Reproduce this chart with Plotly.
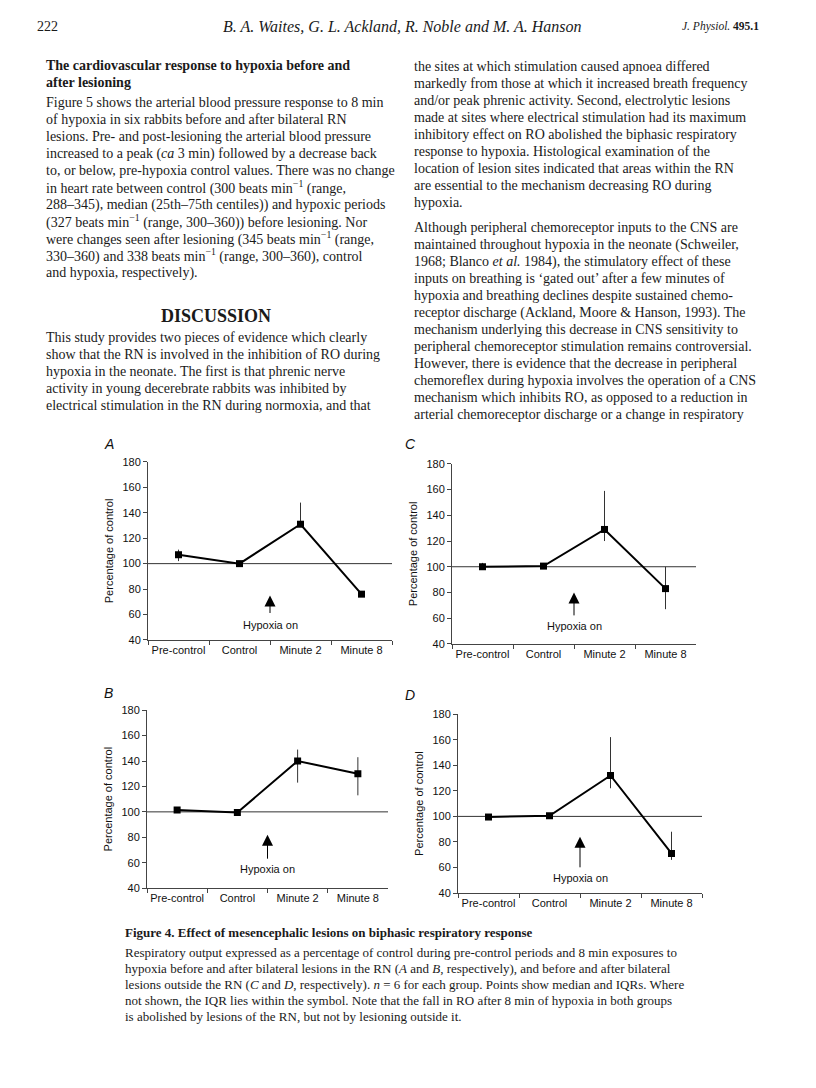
import plotly.graph_objects as go

W, H = 816, 1088

# ---- data ----
categories = ["Pre-control", "Control", "Minute 2", "Minute 8"]

a_median = [107, 100, 131, 76]
a_low = [102, 100, 129, 76]
a_high = [111, 100, 148, 76]

b_median = [101.5, 99.5, 140, 130]
b_low = [101.5, 99.5, 123, 113]
b_high = [101.5, 99.5, 149, 143]

c_median = [100, 100.5, 129, 83]
c_low = [100, 100.5, 120, 67]
c_high = [103, 100.5, 159, 100]

d_median = [99.5, 100.5, 132, 71]
d_low = [99.5, 100.5, 122, 66]
d_high = [99.5, 100.5, 162, 88]

y_ticks = [40, 60, 80, 100, 120, 140, 160, 180]

SERIF = "Liberation Serif"
SANS = "Liberation Sans"


def px_x(x):
    return x / W


def px_y(y):
    return 1 - y / H


# panel: letter, data, x-domain px, y-domain px (top, bottom), letter pos, arrow (tip, tail, label y)
panels = [
    ("A", a_median, a_low, a_high, (148, 392), (461, 641), (102, 443), (75, 60, 52)),
    ("C", c_median, c_low, c_high, (452, 696), (463, 645), (410, 443), (80, 61, 54)),
    ("B", b_median, b_low, b_high, (147, 388), (712, 892), (102, 695), (82, 62, 55)),
    ("D", d_median, d_low, d_high, (458, 702), (716, 897), (410, 697), (84, 59, 52)),
]

fig = go.Figure()
layout = {}
annotations = []
shapes = []

for i, (letter, med, lo, hi, xd, yd, lpos, arr) in enumerate(panels):
    sfx = "" if i == 0 else str(i + 1)
    xa, ya = "x" + sfx, "y" + sfx
    fig.add_trace(
        go.Scatter(
            x=categories,
            y=med,
            mode="lines+markers",
            line=dict(color="black", width=2),
            marker=dict(symbol="square", size=7, color="black"),
            error_y=dict(
                type="data",
                symmetric=False,
                array=[h - m for h, m in zip(hi, med)],
                arrayminus=[m - l for m, l in zip(med, lo)],
                thickness=1,
                width=0,
                color="#333",
            ),
            xaxis=xa,
            yaxis=ya,
            showlegend=False,
            hoverinfo="skip",
        )
    )
    layout["xaxis" + sfx] = dict(
        domain=[px_x(xd[0]), px_x(xd[1])],
        anchor=ya,
        type="category",
        range=[-0.5, 3.5],
        showline=True,
        linecolor="#444",
        linewidth=1,
        ticks="outside",
        tickson="boundaries",
        ticklen=4,
        tickcolor="#444",
        tickangle=0,
        tickfont=dict(family=SANS, size=11, color="#111"),
        showgrid=False,
        zeroline=False,
    )
    layout["yaxis" + sfx] = dict(
        domain=[px_y(yd[1]), px_y(yd[0])],
        anchor=xa,
        range=[40, 180],
        tickvals=y_ticks,
        showline=True,
        linecolor="#444",
        linewidth=1,
        ticks="outside",
        ticklen=4,
        tickcolor="#444",
        tickfont=dict(family=SANS, size=11, color="#111"),
        showgrid=False,
        zeroline=False,
        title=dict(text="Percentage of control", font=dict(family=SANS, size=11, color="#111"), standoff=6),
    )
    shapes.append(dict(type="line", xref=xa, yref=ya, x0=-0.5, x1=3.5, y0=100, y1=100,
                       line=dict(color="#333", width=1), layer="below"))
    annotations.append(dict(x=1.5, y=arr[0], ax=1.5, ay=arr[1], xref=xa, yref=ya, axref=xa, ayref=ya,
                            text="", showarrow=True, arrowhead=2, arrowsize=2.2, arrowwidth=1,
                            arrowcolor="black"))
    annotations.append(dict(x=1.5, y=arr[2], xref=xa, yref=ya, text="Hypoxia on", showarrow=False,
                            font=dict(family=SANS, size=11, color="#111")))
    annotations.append(dict(x=px_x(lpos[0]), y=px_y(lpos[1]), xref="paper", yref="paper",
                            text="<i>%s</i>" % letter, showarrow=False,
                            font=dict(family=SANS, size=14, color="#111")))


def text_line(txt, x, y, size=14, family=SERIF, anchor="left"):
    annotations.append(dict(x=px_x(x), y=px_y(y), xref="paper", yref="paper", text=txt,
                            showarrow=False, xanchor=anchor, yanchor="middle", borderpad=0,
                            font=dict(family=family, size=size, color="#1a1a1a")))


# header
text_line("222", 36, 21, 14)
text_line("<i>B. A. Waites, G. L. Ackland, R. Noble and M. A. Hanson</i>", 402, 21, 16, anchor="center")
text_line("<i>J. Physiol.</i> <b>495.1</b>", 760, 21, 11.5, anchor="right")

LEAD = 17.2

left_head = [
    "<b>The cardiovascular response to hypoxia before and</b>",
    "<b>after lesioning</b>",
]
left_col = [
    "Figure 5 shows the arterial blood pressure response to 8 min",
    "of hypoxia in six rabbits before and after bilateral RN",
    "lesions. Pre- and post-lesioning the arterial blood pressure",
    "increased to a peak (<i>ca</i> 3 min) followed by a decrease back",
    "to, or below, pre-hypoxia control values. There was no change",
    "in heart rate between control (300 beats min<sup>\u22121</sup> (range,",
    "288\u2013345), median (25th\u201375th centiles)) and hypoxic periods",
    "(327 beats min<sup>\u22121</sup> (range, 300\u2013360)) before lesioning. Nor",
    "were changes seen after lesioning (345 beats min<sup>\u22121</sup> (range,",
    "330\u2013360) and 338 beats min<sup>\u22121</sup> (range, 300\u2013360), control",
    "and hypoxia, respectively).",
]
left_col2 = [
    "This study provides two pieces of evidence which clearly",
    "show that the RN is involved in the inhibition of RO during",
    "hypoxia in the neonate. The first is that phrenic nerve",
    "activity in young decerebrate rabbits was inhibited by",
    "electrical stimulation in the RN during normoxia, and that",
]
for k, txt in enumerate(left_head):
    text_line(txt, 45, 60 + k * LEAD)
for k, txt in enumerate(left_col):
    text_line(txt, 45, 97.7 + k * LEAD)
text_line("<b>DISCUSSION</b>", 216, 313, 18, anchor="center")
for k, txt in enumerate(left_col2):
    text_line(txt, 45, 335 + k * LEAD)

right_col = [
    "the sites at which stimulation caused apnoea differed",
    "markedly from those at which it increased breath frequency",
    "and/or peak phrenic activity. Second, electrolytic lesions",
    "made at sites where electrical stimulation had its maximum",
    "inhibitory effect on RO abolished the biphasic respiratory",
    "response to hypoxia. Histological examination of the",
    "location of lesion sites indicated that areas within the RN",
    "are essential to the mechanism decreasing RO during",
    "hypoxia.",
]
right_col2 = [
    "Although peripheral chemoreceptor inputs to the CNS are",
    "maintained throughout hypoxia in the neonate (Schweiler,",
    "1968; Blanco <i>et al.</i> 1984), the stimulatory effect of these",
    "inputs on breathing is \u2018gated out\u2019 after a few minutes of",
    "hypoxia and breathing declines despite sustained chemo-",
    "receptor discharge (Ackland, Moore &amp; Hanson, 1993). The",
    "mechanism underlying this decrease in CNS sensitivity to",
    "peripheral chemoreceptor stimulation remains controversial.",
    "However, there is evidence that the decrease in peripheral",
    "chemoreflex during hypoxia involves the operation of a CNS",
    "mechanism which inhibits RO, as opposed to a reduction in",
    "arterial chemoreceptor discharge or a change in respiratory",
]
for k, txt in enumerate(right_col):
    text_line(txt, 413, 61 + k * LEAD)
for k, txt in enumerate(right_col2):
    text_line(txt, 413, 224 + k * LEAD)

caption = [
    "Respiratory output expressed as a percentage of control during pre-control periods and 8 min exposures to",
    "hypoxia before and after bilateral lesions in the RN (<i>A</i> and <i>B</i>, respectively), and before and after bilateral",
    "lesions outside the RN (<i>C</i> and <i>D</i>, respectively). <i>n</i> = 6 for each group. Points show median and IQRs. Where",
    "not shown, the IQR lies within the symbol. Note that the fall in RO after 8 min of hypoxia in both groups",
    "is abolished by lesions of the RN, but not by lesioning outside it.",
]
text_line("<b>Figure 4. Effect of mesencephalic lesions on biphasic respiratory response</b>", 124, 937, 13)
for k, txt in enumerate(caption):
    text_line(txt, 124, 956.7 + k * 16.3, 13)

fig.update_layout(
    width=W,
    height=H,
    margin=dict(l=0, r=0, t=0, b=0),
    paper_bgcolor="white",
    plot_bgcolor="white",
    annotations=annotations,
    shapes=shapes,
    **layout,
)

fig.write_html(
    "out.html",
    config={"displayModeBar": False},
    post_script="document.body.style.margin='0';document.body.style.overflow='hidden';",
)
